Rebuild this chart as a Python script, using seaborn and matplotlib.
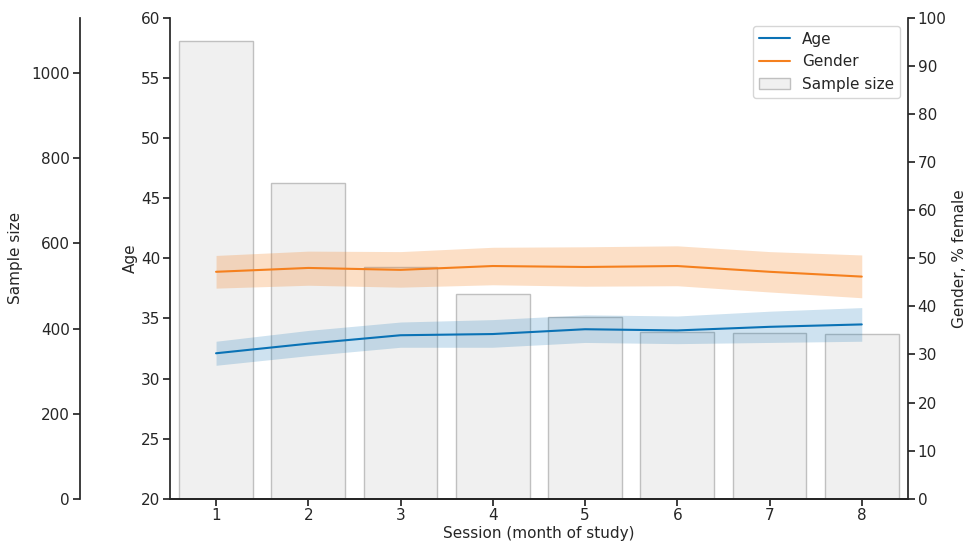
import numpy as np
import pandas as pd
import seaborn as sns
import matplotlib.pyplot as plt

sessions = [1, 2, 3, 4, 5, 6, 7, 8]
sample_size = [1075, 742, 545, 481, 427, 392, 390, 387]
age_mean = [32.1, 32.9, 33.6, 33.7, 34.1, 34.0, 34.3, 34.5]
age_lo = [31.1, 31.9, 32.6, 32.6, 33.0, 32.9, 33.0, 33.1]
age_hi = [33.1, 34.0, 34.7, 34.9, 35.3, 35.2, 35.6, 35.9]
gender_mean = [47.2, 48.0, 47.6, 48.4, 48.2, 48.4, 47.2, 46.2]
gender_lo = [43.8, 44.4, 44.0, 44.5, 44.2, 44.3, 43.0, 41.8]
gender_hi = [50.6, 51.5, 51.4, 52.3, 52.4, 52.6, 51.4, 50.7]

sns.set_theme(style="white")
plt.rcParams['font.family'] = ['DejaVu Sans']
blue = "#0a72b5"
orange = "#f5801e"

df = pd.DataFrame({"Session": sessions, "n": sample_size})
x = np.arange(len(sessions))

fig, ax = plt.subplots(figsize=(9.71, 5.45), dpi=100)
fig.subplots_adjust(left=0.175, right=0.935, top=0.967, bottom=0.085)

sns.barplot(data=df, x="Session", y="n", color="#f0f0f0", edgecolor="#c0c0c0",
            linewidth=1, width=0.8, ax=ax, label="Sample size", saturation=1, legend=False)
ax.set_ylim(0, 1130)
ax.set_yticks([0, 200, 400, 600, 800, 1000])
ax.spines["left"].set_position(("outward", 65))
ax.spines["top"].set_visible(False)
ax.spines["right"].set_visible(False)
ax.set_ylabel("Sample size", fontsize=11, labelpad=6)
ax.set_xlabel("Session (month of study)", fontsize=11, labelpad=2)
ax.tick_params(axis="both", labelsize=11, left=True, bottom=True, length=5, pad=2)

ax_age = ax.twinx()
ax_age.yaxis.set_label_position("left")
ax_age.yaxis.tick_left()
sns.lineplot(x=x, y=age_mean, color=blue, ax=ax_age, label="Age", legend=False)
ax_age.fill_between(x, age_lo, age_hi, color=blue, alpha=0.2, linewidth=0)
ax_age.set_ylim(20, 60)
ax_age.set_ylabel("Age", fontsize=11, labelpad=2)
ax_age.spines["top"].set_visible(False)
ax_age.spines["right"].set_visible(False)
ax_age.tick_params(axis="y", labelsize=11, left=True, length=5, pad=2)

ax_g = ax.twinx()
sns.lineplot(x=x, y=gender_mean, color=orange, ax=ax_g, label="Gender", legend=False)
ax_g.fill_between(x, gender_lo, gender_hi, color=orange, alpha=0.25, linewidth=0)
ax_g.set_ylim(0, 100)
ax_g.set_yticks(range(0, 101, 10))
ax_g.set_ylabel("Gender, % female", fontsize=11, labelpad=4)
ax_g.spines["top"].set_visible(False)
ax_g.spines["left"].set_visible(False)
ax_g.tick_params(axis="y", labelsize=11, right=True, length=5, pad=2)
ax.set_xlim(-0.5, 7.5)

h_age = ax_age.get_legend_handles_labels()[0]
h_g = ax_g.get_legend_handles_labels()[0]
h_s = [p for p in ax.patches[:1]]
ax_g.legend(h_age + h_g + h_s, ["Age", "Gender", "Sample size"], loc="upper right", fontsize=11)

fig.savefig("out.png", dpi=100)
